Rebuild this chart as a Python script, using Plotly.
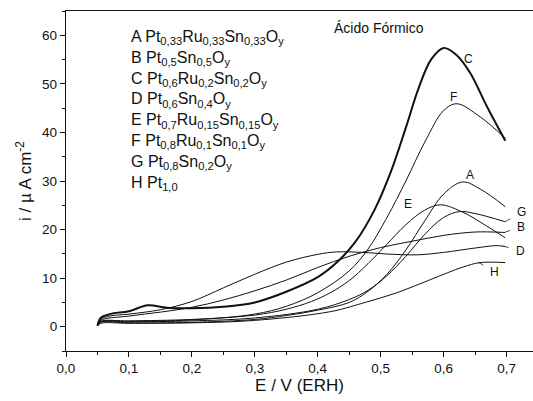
import plotly.graph_objects as go

# Potential (V vs ERH) and current density (µA cm^-2) for each catalyst
xA = [0.05, 0.055, 0.1, 0.2, 0.3, 0.35, 0.4, 0.45, 0.48, 0.51, 0.54, 0.57, 0.6, 0.63, 0.66, 0.698]
yA = [0.2, 0.9, 0.8, 0.9, 1.5, 2.3, 3.4, 5.0, 7.3, 10.8, 15.8, 21.8, 27.3, 29.8, 28.2, 24.7]

xB = [0.05, 0.055, 0.1, 0.15, 0.2, 0.25, 0.3, 0.35, 0.4, 0.45, 0.5, 0.55, 0.6, 0.65, 0.698]
yB = [0.2, 1.3, 2.2, 3.0, 4.0, 5.5, 7.4, 9.6, 12.2, 14.5, 16.3, 17.6, 18.8, 19.5, 19.4]

xC = [0.05, 0.055, 0.07, 0.1, 0.13, 0.16, 0.2, 0.25, 0.3, 0.35, 0.4, 0.43, 0.46, 0.49, 0.515, 0.54, 0.56, 0.58, 0.6, 0.62, 0.642, 0.669, 0.698]
yC = [0.2, 1.8, 2.6, 3.2, 4.4, 3.9, 3.8, 4.1, 5.0, 7.2, 10.2, 13.2, 17.5, 24.0, 31.5, 41.0, 49.0, 55.0, 57.4, 56.0, 52.3, 45.3, 38.3]

xD = [0.05, 0.055, 0.07, 0.1, 0.15, 0.2, 0.25, 0.3, 0.35, 0.4, 0.43, 0.47, 0.52, 0.56, 0.6, 0.65, 0.685, 0.698]
yD = [0.2, 1.5, 2.2, 2.6, 3.5, 5.2, 8.0, 10.8, 13.3, 14.9, 15.4, 15.3, 14.9, 14.8, 15.3, 16.2, 16.7, 16.5]

xE = [0.05, 0.055, 0.1, 0.2, 0.3, 0.35, 0.39, 0.42, 0.45, 0.48, 0.51, 0.54, 0.57, 0.595, 0.63, 0.66, 0.698]
yE = [0.2, 1.1, 1.2, 1.5, 2.4, 3.6, 5.2, 7.0, 9.5, 13.0, 17.0, 21.0, 24.0, 25.1, 23.6, 21.4, 18.3]

xF = [0.05, 0.055, 0.1, 0.2, 0.3, 0.35, 0.4, 0.45, 0.48, 0.51, 0.54, 0.57, 0.6, 0.621, 0.658, 0.698]
yF = [0.2, 1.0, 1.1, 1.4, 2.6, 4.2, 7.0, 11.5, 16.0, 22.5, 30.0, 38.0, 44.5, 45.9, 43.2, 38.8]

xG = [0.05, 0.055, 0.1, 0.2, 0.3, 0.4, 0.45, 0.48, 0.51, 0.54, 0.57, 0.6, 0.625, 0.65, 0.698]
yG = [0.2, 1.0, 1.0, 1.2, 1.8, 3.6, 5.6, 7.5, 10.5, 14.5, 19.0, 22.5, 23.7, 23.3, 21.6]

xH = [0.05, 0.055, 0.1, 0.2, 0.3, 0.42, 0.47, 0.526, 0.579, 0.631, 0.658, 0.698]
yH = [0.2, 0.7, 0.7, 0.8, 1.3, 3.1, 4.8, 7.0, 9.7, 12.3, 13.2, 13.2]

series = [("A", xA, yA, 1), ("B", xB, yB, 1), ("C", xC, yC, 2.0), ("D", xD, yD, 1),
          ("E", xE, yE, 1), ("F", xF, yF, 1), ("G", xG, yG, 1), ("H", xH, yH, 1)]

# curve labels: (name, x, y, ax, ay, arrow)
labels = [("A", 0.642, 31.3, 0, 0, False),
          ("C", 0.640, 55.1, 0, 0, False),
          ("F", 0.615, 47.3, 0, 0, False),
          ("E", 0.557, 23.0, -9, -11, True),
          ("G", 0.698, 21.6, 16, -10, True),
          ("B", 0.698, 19.5, 16, -5, True),
          ("D", 0.695, 16.6, 17, 5, True),
          ("H", 0.655, 13.3, 16, 10, True)]

legend_lines = [
    "A Pt<sub>0,33</sub>Ru<sub>0,33</sub>Sn<sub>0,33</sub>O<sub>y</sub>",
    "B Pt<sub>0,5</sub>Sn<sub>0,5</sub>O<sub>y</sub>",
    "C Pt<sub>0,6</sub>Ru<sub>0,2</sub>Sn<sub>0,2</sub>O<sub>y</sub>",
    "D Pt<sub>0,6</sub>Sn<sub>0,4</sub>O<sub>y</sub>",
    "E Pt<sub>0,7</sub>Ru<sub>0,15</sub>Sn<sub>0,15</sub>O<sub>y</sub>",
    "F Pt<sub>0,8</sub>Ru<sub>0,1</sub>Sn<sub>0,1</sub>O<sub>y</sub>",
    "G Pt<sub>0,8</sub>Sn<sub>0,2</sub>O<sub>y</sub>",
    "H Pt<sub>1,0</sub>",
]

FONT = "Liberation Sans, Arial, sans-serif"

fig = go.Figure()
for name, xs, ys, w in series:
    fig.add_trace(go.Scatter(x=xs, y=ys, mode="lines", name=name,
                             line=dict(color="#111111", width=w, shape="spline", smoothing=1.0),
                             showlegend=False))

for name, x, y, ax, ay, arrow in labels:
    fig.add_annotation(x=x, y=y, text=name, showarrow=arrow, ax=ax, ay=ay,
                       arrowhead=0, arrowwidth=0.8, arrowcolor="#222", standoff=0, startstandoff=6,
                       font=dict(size=12, color="#111", family=FONT))

fig.add_annotation(xref="paper", yref="paper", x=0.135, y=0.955, xanchor="left", yanchor="top",
                   text="<br>".join(legend_lines), showarrow=False, align="left",
                   font=dict(size=16, color="#111", family=FONT))

fig.add_annotation(xref="paper", yref="paper", x=0.57, y=0.978, xanchor="left", yanchor="top",
                   text="Ácido Fórmico", showarrow=False,
                   font=dict(size=14, color="#111", family=FONT))

fig.update_layout(
    width=533, height=401,
    margin=dict(l=66, r=0, t=11, b=50),
    paper_bgcolor="white", plot_bgcolor="white",
    separators=",.",
    font=dict(family=FONT, color="#111"),
    xaxis=dict(range=[0, 0.742], dtick=0.1, tick0=0, tickformat=".1f",
               ticks="outside", ticklen=5, tickwidth=1, tickcolor="#111",
               minor=dict(dtick=0.05, ticks="outside", ticklen=3, tickcolor="#111"),
               showline=True, linecolor="#111", linewidth=1.3, mirror=True,
               showgrid=False, zeroline=False,
               tickfont=dict(size=13.5),
               title=dict(text="E / V (ERH)", font=dict(size=17), standoff=1)),
    yaxis=dict(range=[-5, 65], dtick=10, tick0=0,
               ticks="outside", ticklen=5, tickwidth=1, tickcolor="#111",
               minor=dict(dtick=5, ticks="outside", ticklen=3, tickcolor="#111"),
               showline=True, linecolor="#111", linewidth=1.3, mirror=False,
               showgrid=False, zeroline=False,
               tickfont=dict(size=13.5),
               title=dict(text="i / µ A cm<sup>-2</sup>", font=dict(size=17), standoff=6)),
)

fig.write_html("out.html")
